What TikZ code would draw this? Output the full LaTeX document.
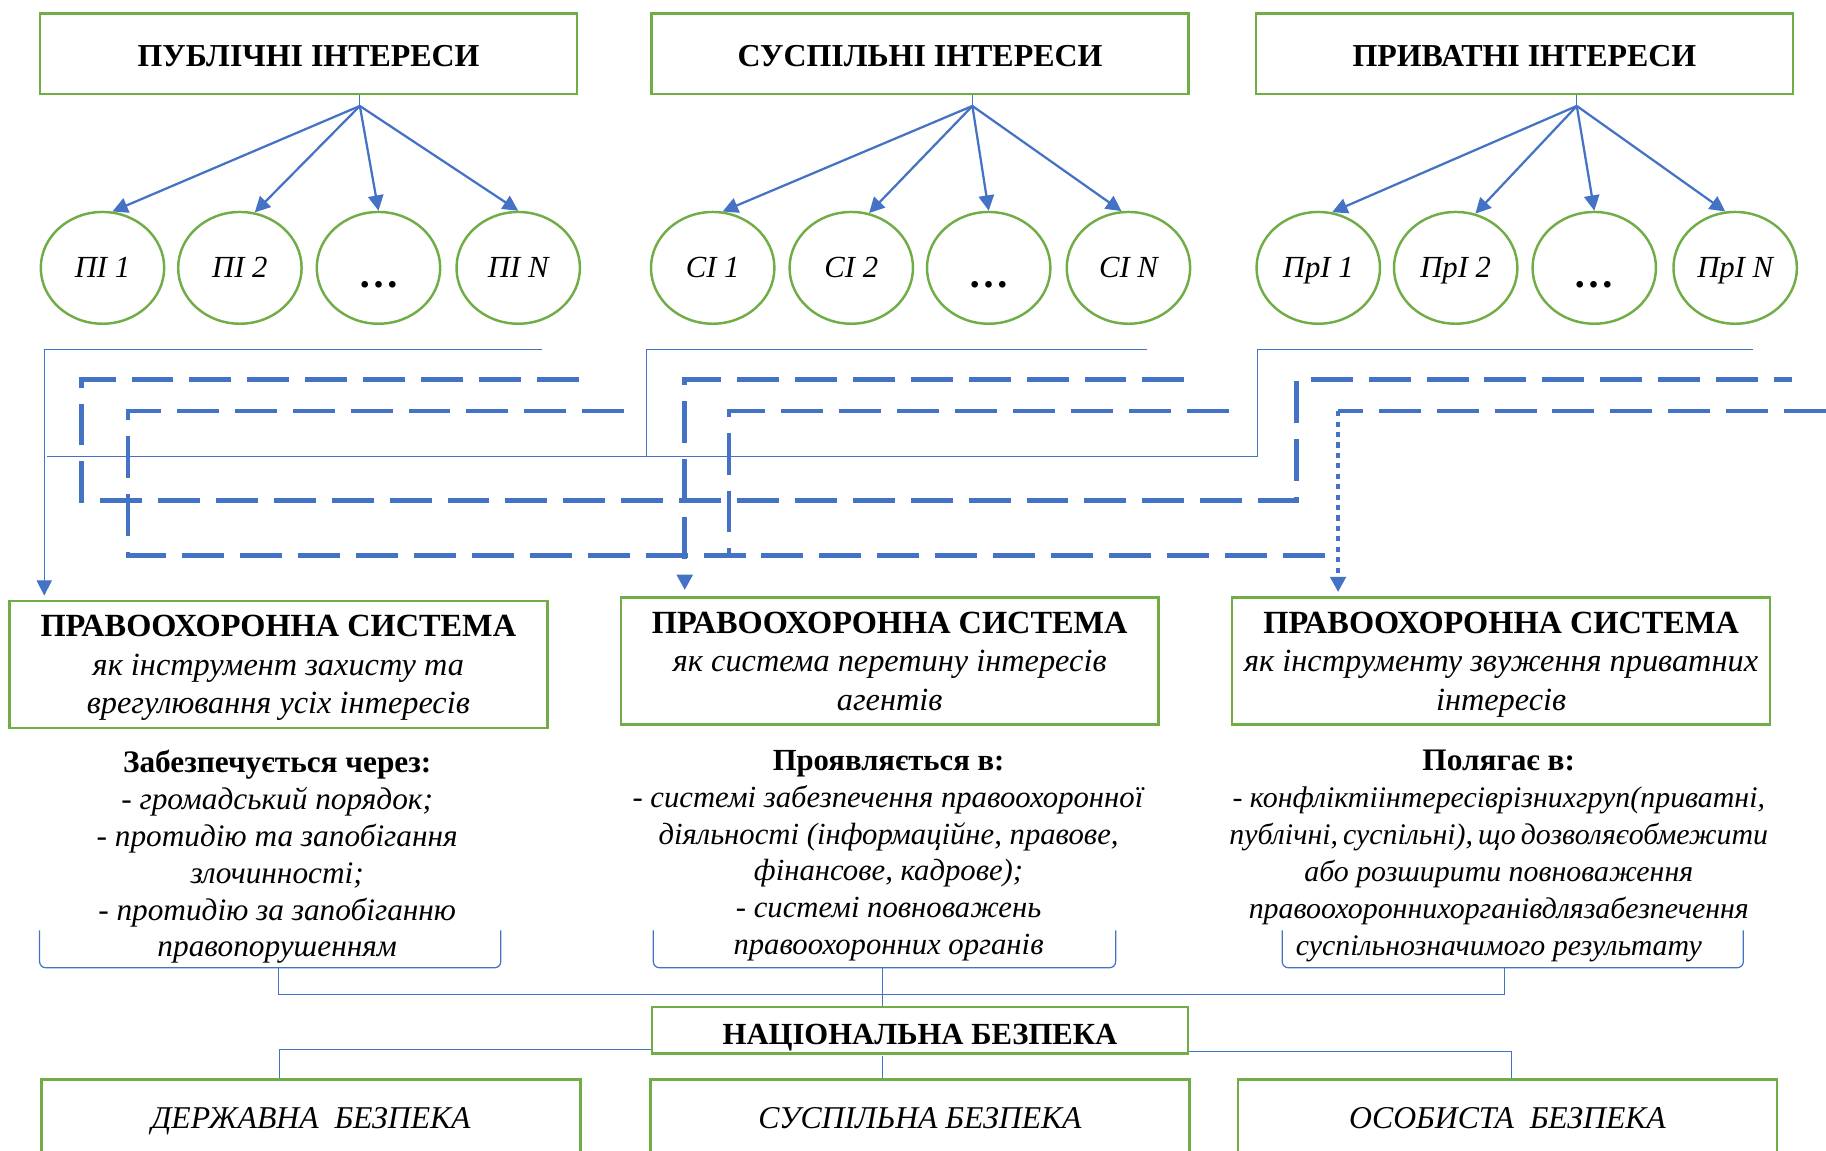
\documentclass[tikz,border=0pt]{standalone}
\usepackage{fontspec}
\setmainfont{Liberation Serif}
\usetikzlibrary{arrows.meta,shapes.geometric}
\definecolor{boxgreen}{RGB}{112,173,71}
\definecolor{linkblue}{RGB}{68,114,196}

\begin{document}
\begin{tikzpicture}[x=0.02cm,y=-0.02cm,>={Triangle[length=7.5pt,width=7.5pt]},
	every node/.style={inner sep=0pt},
	head/.style={draw=boxgreen,line width=1.2pt,minimum width=9.22cm,minimum height=1.38cm,font=\bfseries\fontsize{15.6}{18}\selectfont,text height=13pt,text depth=0pt},
	interest/.style={ellipse,draw=boxgreen,line width=1.2pt,minimum width=2.12cm,minimum height=1.92cm,font=\itshape\fontsize{15}{18}\selectfont,text height=9.9pt,text depth=0pt},
	more/.style={interest,font=\bfseries\fontsize{20}{20}\selectfont,text height=19pt},
	hub/.style={coordinate},
	fan/.style={->,linkblue,line width=1.1pt},
	thin link/.style={linkblue,line width=0.6pt},
	dash link/.style={linkblue,line width=2.3pt,dash pattern=on 20.5pt off 7.8pt},
	dot link/.style={linkblue,line width=2.3pt,dash pattern=on 2.5pt off 2.6pt},
	lebox/.style={draw=boxgreen,line width=1.2pt,minimum width=9.24cm,minimum height=2.18cm,align=center,font=\fontsize{15.8}{18.8}\selectfont,text depth=0pt},
	notes/.style={anchor=north,align=center,font=\fontsize{15.3}{18}\selectfont},
	nbox/.style={draw=boxgreen,line width=1.2pt,minimum width=9.2cm,minimum height=0.8cm,font=\bfseries\fontsize{15}{18}\selectfont,text height=13.9pt,text depth=0pt},
	sbox/.style={draw=boxgreen,line width=1.2pt,minimum width=9.26cm,minimum height=1.32cm,font=\itshape\fontsize{15.5}{18}\selectfont,text height=10.2pt,text depth=0pt}]

	\useasboundingbox (0,0) rectangle (1568,988);
	\clip (0,0) rectangle (1568,988);

	\node [head] (pub) at (265,46) {ПУБЛІЧНІ ІНТЕРЕСИ};
	\node [head] (soc) at (790,46) {СУСПІЛЬНІ ІНТЕРЕСИ};
	\node [head] (pri) at (1309,46) {ПРИВАТНІ ІНТЕРЕСИ};

	\node [interest] (pub1) at (88,230) {ПІ 1};
	\node [interest] (pub2) at (206,230) {ПІ 2};
	\node [more] (pub3) at (325,230) {…};
	\node [interest] (pubn) at (445,230) {ПІ N};
	\node [interest] (soc1) at (612,230) {СІ 1};
	\node [interest] (soc2) at (731,230) {СІ 2};
	\node [more] (soc3) at (849,230) {…};
	\node [interest] (socn) at (969,230) {СІ N};
	\node [interest] (pri1) at (1132,230) {ПрІ 1};
	\node [interest] (pri2) at (1250,230) {ПрІ 2};
	\node [more] (pri3) at (1369,230) {…};
	\node [interest] (prin) at (1490,230) {ПрІ N};

	\node [hub] (pubo) at (309,91) {}
		edge [fan] (pub1.80)
		edge [fan] (pub2.75)
		edge [fan] (pub3.north)
		edge [fan] (pubn.north);
	\node [hub] (soco) at (835,91) {}
		edge [fan] (soc1.80)
		edge [fan] (soc2.72)
		edge [fan] (soc3.north)
		edge [fan] (socn.97);
	\node [hub] (prio) at (1354,91) {}
		edge [fan] (pri1.76)
		edge [fan] (pri2.70)
		edge [fan] (pri3.north)
		edge [fan] (prin.100);
	\draw [thin link] (pubo |- pub.south) -- (pubo);
	\draw [thin link] (soco |- soc.south) -- (soco);
	\draw [thin link] (prio |- pri.south) -- (prio);

	\node [lebox] (law1) at (239,570.5) {\textbf{ПРАВООХОРОННА СИСТЕМА}\\ \textit{як інструмент захисту та}\\ \textit{врегулювання усіх інтересів}};
	\node [lebox] (law2) at (764,567.5) {\textbf{ПРАВООХОРОННА СИСТЕМА}\\ \textit{як система перетину інтересів}\\ \textit{агентів}};
	\node [lebox] (law3) at (1289,567.5) {\textbf{ПРАВООХОРОННА СИСТЕМА}\\ \textit{як інструменту звуження приватних}\\ \textit{інтересів}};

	\coordinate (ta) at (465,300);
	\coordinate (tax) at (38,300);
	\coordinate (tb) at (985,300);
	\coordinate (tbx) at (555,300);
	\coordinate (tc) at (1505,300);
	\coordinate (tcx) at (1080,300);
	\coordinate (tl) at (40,392);
	\draw [thin link,->,shorten >=2pt] (ta) -- (tax) -- (tax |- law1.north);
	\draw [thin link] (tb) -- (tbx) -- (tbx |- tl);
	\draw [thin link] (tc) -- (tcx) -- (tcx |- tl) -- (tl);

	\coordinate (da) at (497,326);
	\coordinate (dax) at (70,326);
	\coordinate (day) at (70,430);
	\coordinate (dc) at (1539,326);
	\coordinate (dcx) at (1113,326);
	\draw [dash link] (da) -- (dax) -- (day) -- (day -| dcx) -- (dcx) -- (dc);
	\coordinate (db) at (536,353);
	\coordinate (dbx) at (110,353);
	\coordinate (dby) at (110,477);
	\coordinate (dd) at (1568,353);
	\coordinate (ddx) at (1149,353);
	\draw [dash link] (db) -- (dbx) -- (dby) -- (dby -| ddx);
	\draw [dash link] (dd) -- (ddx);
	\draw [dot link,->,shorten >=2pt] (ddx) -- (ddx |- law3.north);
	\coordinate (de) at (1017,326);
	\coordinate (dex) at (588,326);
	\draw [dash link,->,shorten >=3pt] (de) -- (dex) -- (dex |- law2.north);
	\coordinate (df) at (1055,353);
	\coordinate (dfx) at (626,353);
	\draw [dash link] (df) -- (dfx) -- (dfx |- dby);

	\node [notes] (how1) at (238,644) {\textbf{Забезпечується через:}\\ - \textit{громадський порядок;}\\ - \textit{протидію та запобігання}\\ \textit{злочинності;}\\ - \textit{протидію за запобіганню}\\ \textit{правопорушенням}};
	\node [notes,font=\fontsize{15}{18}\selectfont] (how2) at (763,644) {\textbf{Проявляється в:}\\ - \textit{системі забезпечення правоохоронної}\\ \textit{діяльності (інформаційне, правове,}\\ \textit{фінансове, кадрове);}\\ - \textit{системі повноважень}\\ \textit{правоохоронних органів}};
	\node [notes,font=\fontsize{14.6}{18}\selectfont] (how3) at (1287,644) {\textbf{\fontsize{15.3}{18}\selectfont Полягає в:}\\ - \textit{конфліктіінтересіврізнихгруп(приватні,}\\ \textit{публічні,\,суспільні),\,що\,дозволяєобмежити}\\ \textit{або розширити повноваження}\\ \textit{правоохороннихорганівдлязабезпечення}\\ \textit{суспільнозначимого результату}};

	\coordinate (br1) at (239,831);
	\coordinate (br2) at (758,831);
	\coordinate (br3) at (1292,831);
	\coordinate (jn) at (758,854);
	\draw [thin link,rounded corners=3pt] (34,799) -- (34,831) -- (430,831) -- (430,799);
	\draw [thin link,rounded corners=3pt] (561,799) -- (561,831) -- (958,831) -- (958,799);
	\draw [thin link,rounded corners=3pt] (1101,799) -- (1101,831) -- (1497,831) -- (1497,799);

	\node [nbox] (nat) at (790,884.5) {НАЦІОНАЛЬНА БЕЗПЕКА};
	\draw [thin link] (br1) |- (jn) -| (br3);
	\draw [thin link] (br2) -- (br2 |- nat.north);

	\node [sbox] (stat) at (267,960) {ДЕРЖАВНА\ \ БЕЗПЕКА};
	\node [sbox] (pubs) at (790,960) {СУСПІЛЬНА БЕЗПЕКА};
	\node [sbox] (pers) at (1294.5,960) {ОСОБИСТА\ \ БЕЗПЕКА};

	\coordinate (sx) at (240,901);
	\coordinate (mx) at (758,907);
	\coordinate (px) at (1298,903);
	\draw [thin link] (nat.west |- sx) -- (sx) -- (sx |- stat.north);
	\draw [thin link] (mx) -- (mx |- pubs.north);
	\draw [thin link] (nat.east |- px) -- (px) -- (px |- pers.north);

\end{tikzpicture}
\end{document}
